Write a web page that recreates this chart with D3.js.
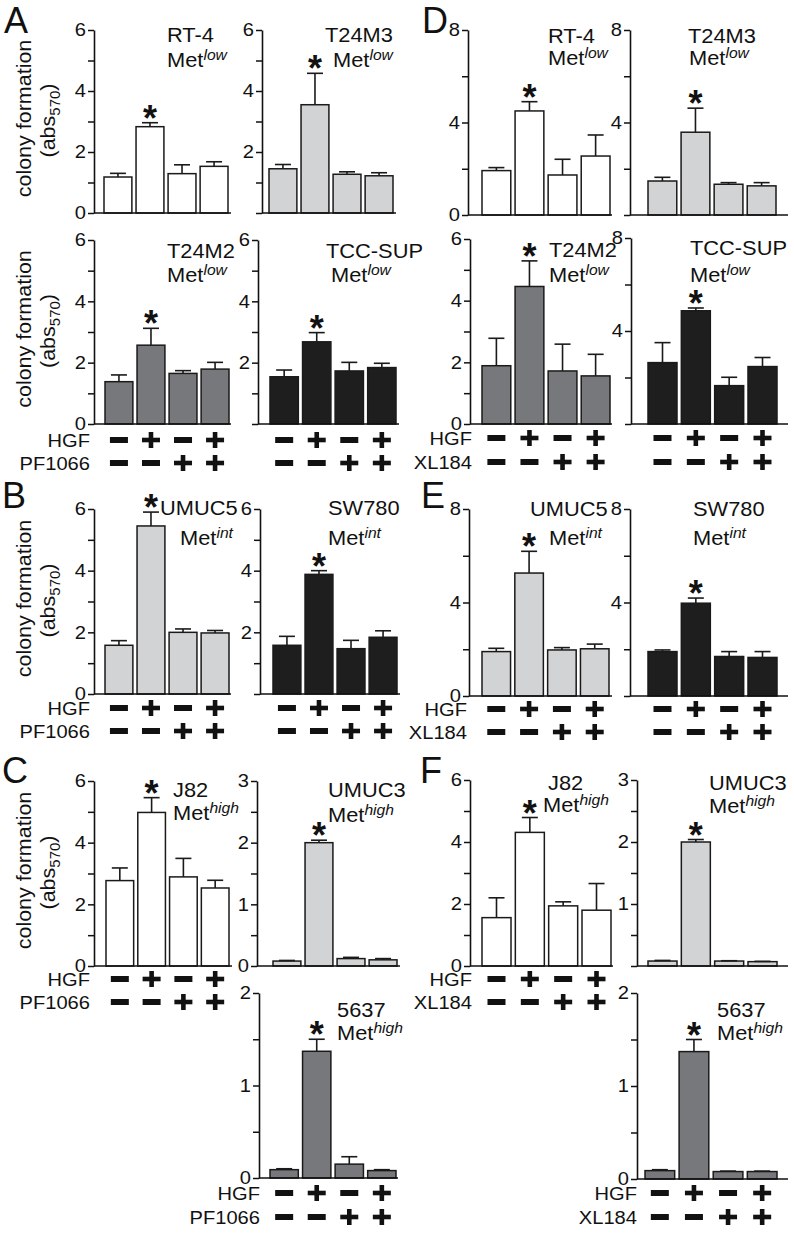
<!DOCTYPE html>
<html><head><meta charset="utf-8">
<script src="https://cdn.jsdelivr.net/npm/d3@7"></script>
<style>
body{margin:0;background:#fff}
svg{display:block}
text{font-family:"Liberation Sans",Arial,Helvetica,sans-serif;fill:#111}
</style>
</head><body>
<svg id="chart" width="794" height="1235"></svg>
<script>
// ---------- data ----------
const treatments = ["control", "HGF", "inhibitor", "HGF + inhibitor"];
const hgfSigns = ["-", "+", "-", "+"];
const inhSigns = ["-", "-", "+", "+"];
const inhibitorPF = "PF1066";
const inhibitorXL = "XL184";

// PF1066 experiments (panels A, B, C): mean and SEM
const rt4PF      = [1.18, 2.83, 1.29, 1.53];
const rt4PFsem   = [0.12, 0.13, 0.29, 0.15];
const t24m3PF    = [1.45, 3.55, 1.27, 1.22];
const t24m3PFsem = [0.14, 1.03, 0.08, 0.10];
const t24m2PF    = [1.38, 2.57, 1.65, 1.79];
const t24m2PFsem = [0.22, 0.55, 0.09, 0.22];
const tccPF      = [1.54, 2.68, 1.73, 1.84];
const tccPFsem   = [0.22, 0.30, 0.28, 0.14];
const umuc5PF    = [1.58, 5.45, 2.00, 1.98];
const umuc5PFsem = [0.15, 0.45, 0.11, 0.08];
const sw780PF    = [1.58, 3.88, 1.47, 1.84];
const sw780PFsem = [0.29, 0.12, 0.27, 0.21];
const j82PF      = [2.77, 4.98, 2.89, 2.53];
const j82PFsem   = [0.41, 0.48, 0.60, 0.25];
const umuc3PF    = [0.08, 2.00, 0.12, 0.10];
const umuc3PFsem = [0.01, 0.04, 0.02, 0.02];
const c5637PF    = [0.09, 1.37, 0.15, 0.08];
const c5637PFsem = [0.01, 0.13, 0.08, 0.01];

// XL184 experiments (panels D, E, F)
const rt4XL      = [1.92, 4.50, 1.73, 2.55];
const rt4XLsem   = [0.13, 0.40, 0.68, 0.91];
const t24m3XL    = [1.47, 3.58, 1.33, 1.26];
const t24m3XLsem = [0.16, 1.04, 0.07, 0.14];
const t24m2XL    = [1.89, 4.46, 1.72, 1.56];
const t24m2XLsem = [0.89, 0.83, 0.87, 0.70];
const tccXL      = [2.64, 4.87, 1.65, 2.47];
const tccXLsem   = [0.86, 0.12, 0.36, 0.39];
const umuc5XL    = [1.90, 5.26, 1.97, 2.02];
const umuc5XLsem = [0.14, 0.93, 0.10, 0.20];
const sw780XL    = [1.90, 3.97, 1.69, 1.65];
const sw780XLsem = [0.07, 0.22, 0.21, 0.25];
const j82XL      = [1.56, 4.31, 1.94, 1.80];
const j82XLsem   = [0.64, 0.48, 0.13, 0.86];
const umuc3XL    = [0.08, 2.00, 0.08, 0.07];
const umuc3XLsem = [0.01, 0.04, 0.005, 0.005];
const c5637XL    = [0.09, 1.37, 0.08, 0.08];
const c5637XLsem = [0.01, 0.13, 0.005, 0.005];

// tick values
const ticks6 = {major: [0, 2, 4, 6], minor: [1, 3, 5]};
const ticks8 = {major: [0, 4, 8], minor: [2, 6]};
const ticks3 = {major: [0, 1, 2, 3], minor: [0.5, 1.5, 2.5]};
const ticks2 = {major: [0, 1, 2], minor: [0.5, 1.5]};

// ---------- style ----------
const C_WHITE = "#ffffff", C_LIGHT = "#d2d3d5", C_MID = "#77787b", C_DARK = "#1e1e1e";
const TS = 1.12;   // horizontal stretch of text
const FONT_TICK = 18, FONT_LAB = 19.5, FONT_ROW = 19;

// ---------- layout ----------
const panels = [
  // A
  {name:"RT-4", met:"low", m:rt4PF, e:rt4PFsem, fill:C_WHITE, max:6, t:ticks6, ax:94, x0:104, x1:228, xe:231, yTop:30, y0:213, zero:true, nx:167, ny:42, mx:167, my:67, title:true},
  {name:"T24M3", met:"low", m:t24m3PF, e:t24m3PFsem, fill:C_LIGHT, max:6, t:ticks6, ax:262, x0:269, x1:393, xe:396, yTop:30, y0:213, zero:false, nx:325, ny:42, mx:333, my:67},
  {name:"T24M2", met:"low", m:t24m2PF, e:t24m2PFsem, fill:C_MID, max:6, t:ticks6, ax:94, x0:105, x1:229, xe:231, yTop:240, y0:424, zero:true, nx:167, ny:258, mx:167, my:282, title:true},
  {name:"TCC-SUP", met:"low", m:tccPF, e:tccPFsem, fill:C_DARK, max:6, t:ticks6, ax:258, x0:270, x1:396, xe:399, yTop:240, y0:424, zero:false, nx:326, ny:258, mx:331, my:282},
  // D
  {name:"RT-4", met:"low", m:rt4XL, e:rt4XLsem, fill:C_WHITE, max:8, t:ticks8, ax:468, x0:482, x1:610, xe:612, yTop:30, y0:215, zero:true, nx:548, ny:43, mx:548, my:65},
  {name:"T24M3", met:"low", m:t24m3XL, e:t24m3XLsem, fill:C_LIGHT, max:8, t:ticks8, ax:630, x0:648, x1:776, xe:788, yTop:30, y0:215, zero:false, nx:688, ny:43, mx:689, my:65},
  {name:"T24M2", met:"low", m:t24m2XL, e:t24m2XLsem, fill:C_MID, max:6, t:ticks6, ax:470, x0:482, x1:610, xe:612, yTop:239, y0:424, zero:true, nx:549, ny:257, mx:549, my:282},
  {name:"TCC-SUP", met:"low", m:tccXL, e:tccXLsem, fill:C_DARK, max:8, t:ticks8, ax:631, x0:648, x1:777, xe:788, yTop:238, y0:424, zero:false, nx:690, ny:255, mx:690, my:282},
  // B
  {name:"UMUC5", met:"int", m:umuc5PF, e:umuc5PFsem, fill:C_LIGHT, max:6, t:ticks6, ax:94, x0:105, x1:229, xe:231, yTop:509, y0:694, zero:true, nx:160, ny:515, mx:180, my:545, title:true},
  {name:"SW780", met:"int", m:sw780PF, e:sw780PFsem, fill:C_DARK, max:6, t:ticks6, ax:260, x0:273, x1:397, xe:400, yTop:509, y0:694, zero:false, nx:328, ny:515, mx:328, my:545},
  // E
  {name:"UMUC5", met:"int", m:umuc5XL, e:umuc5XLsem, fill:C_LIGHT, max:8, t:ticks8, ax:469, x0:482, x1:609, xe:612, yTop:509, y0:696, zero:true, nx:530, ny:516, mx:549, my:545},
  {name:"SW780", met:"int", m:sw780XL, e:sw780XLsem, fill:C_DARK, max:8, t:ticks8, ax:630, x0:648, x1:777, xe:788, yTop:509, y0:696, zero:false, nx:693, ny:516, mx:693, my:545},
  // C
  {name:"J82", met:"high", m:j82PF, e:j82PFsem, fill:C_WHITE, max:6, t:ticks6, ax:94, x0:106, x1:229, xe:232, yTop:781, y0:966, zero:true, nx:173, ny:797, mx:173, my:820, title:true},
  {name:"UMUC3", met:"high", m:umuc3PF, e:umuc3PFsem, fill:C_LIGHT, max:3, t:ticks3, ax:257, x0:273, x1:397, xe:400, yTop:781, y0:966, zero:true, nx:328, ny:797, mx:328, my:822},
  {name:"5637", met:"high", m:c5637PF, e:c5637PFsem, fill:C_MID, max:2, t:ticks2, ax:259, x0:270, x1:396, xe:398, yTop:993, y0:1178, zero:true, nx:337, ny:1017, mx:337, my:1040},
  // F
  {name:"J82", met:"high", m:j82XL, e:j82XLsem, fill:C_WHITE, max:6, t:ticks6, ax:470, x0:482, x1:611, xe:613, yTop:780, y0:966, zero:true, nx:548, ny:790, mx:543, my:812},
  {name:"UMUC3", met:"high", m:umuc3XL, e:umuc3XLsem, fill:C_LIGHT, max:3, t:ticks3, ax:637, x0:648, x1:777, xe:788, yTop:780, y0:966, zero:false, nx:709, ny:790, mx:709, my:813},
  {name:"5637", met:"high", m:c5637XL, e:c5637XLsem, fill:C_MID, max:2, t:ticks2, ax:637, x0:645, x1:777, xe:788, yTop:993, y0:1179, zero:true, nx:717, ny:1017, mx:717, my:1040}
];

// sign rows: which panels (by index) get +/- rows
const signRows = [
  {p:[2,3], inh:inhibitorPF, lx:90, y1:440, y2:463},
  {p:[6,7], inh:inhibitorXL, lx:472, y1:438, y2:462},
  {p:[8,9], inh:inhibitorPF, lx:90, y1:708, y2:731},
  {p:[10,11], inh:inhibitorXL, lx:467, y1:709, y2:732},
  {p:[12], inh:inhibitorPF, lx:90, y1:979, y2:1002},
  {p:[14], inh:inhibitorPF, lx:260, y1:1193, y2:1217},
  {p:[15], inh:inhibitorXL, lx:472, y1:979, y2:1002},
  {p:[17], inh:inhibitorXL, lx:637, y1:1193, y2:1217}
];

const letters = [
  {t:"A", x:4, y:33}, {t:"D", x:422, y:33},
  {t:"B", x:2, y:508}, {t:"E", x:421, y:508},
  {t:"C", x:2, y:783}, {t:"F", x:420, y:783}
];

// ---------- drawing ----------
const svg = d3.select("#chart");
svg.append("rect").attr("width",794).attr("height",1235).attr("fill","#fff");

function stext(parent, x, y, str, size, anchor, sx) {
  const g = parent.append("g").attr("transform", `translate(${x},${y}) scale(${sx||TS},1)`);
  return g.append("text").attr("font-size", size).attr("text-anchor", anchor || "start").text(str);
}

const scales = [];
panels.forEach((p, pi) => {
  const g = svg.append("g");
  const y = d3.scaleLinear().domain([0, p.max]).range([p.y0, p.yTop]);
  const x = d3.scaleBand().domain(d3.range(4)).range([p.x0, p.x1]).paddingInner(0.13);
  scales[pi] = x;
  const bw = x.bandwidth();

  // bars
  g.selectAll("rect.bar").data(p.m).enter().append("rect")
    .attr("x", (d,i) => x(i)).attr("y", d => y(d))
    .attr("width", bw).attr("height", d => p.y0 - y(d))
    .attr("fill", p.fill).attr("stroke", "#1a1a1a").attr("stroke-width", 1.5);

  // error bars
  const eb = g.selectAll("g.err").data(p.m).enter().append("g");
  eb.append("line")
    .attr("x1", (d,i) => x(i)+bw/2).attr("x2", (d,i) => x(i)+bw/2)
    .attr("y1", d => y(d)).attr("y2", (d,i) => y(d + p.e[i]))
    .attr("stroke", "#1a1a1a").attr("stroke-width", 1.6);
  eb.append("line")
    .attr("x1", (d,i) => x(i)+bw/2-8).attr("x2", (d,i) => x(i)+bw/2+8)
    .attr("y1", (d,i) => y(d + p.e[i])).attr("y2", (d,i) => y(d + p.e[i]))
    .attr("stroke", "#1a1a1a").attr("stroke-width", 1.6);

  // asterisk above HGF bar
  const top = y(p.m[1] + p.e[1]);
  g.append("text").attr("x", x(1)+bw/2).attr("y", top + 8)
    .attr("text-anchor","middle").attr("font-size", 36).attr("font-weight","bold").text("*");

  // y axis
  const allTicks = p.t.major.concat(p.t.minor).sort((a,b)=>a-b);
  const axis = d3.axisLeft(y).tickValues(allTicks).tickSize(6).tickSizeOuter(0)
    .tickFormat(d => (p.t.major.includes(d) && (d !== 0 || p.zero)) ? d3.format("~g")(d) : "");
  const ag = g.append("g").attr("transform", `translate(${p.ax},0)`).call(axis);
  ag.select(".domain").attr("stroke","#111").attr("stroke-width",1.6);
  ag.selectAll(".tick line").attr("stroke","#111").attr("stroke-width",1.5);
  ag.selectAll(".tick text").attr("font-size", FONT_TICK).attr("fill","#111")
    .attr("font-family",'"Liberation Sans",Arial,sans-serif')
    .attr("x", -8/TS).attr("transform", `scale(${TS},1)`);

  // x axis baseline
  g.append("line").attr("x1", p.ax).attr("x2", p.xe).attr("y1", p.y0).attr("y2", p.y0)
    .attr("stroke","#111").attr("stroke-width",1.6);

  // cell line labels
  stext(g, p.nx, p.ny, p.name, FONT_LAB);
  const mt = stext(g, p.mx, p.my, "", FONT_LAB);
  mt.append("tspan").text("Met");
  mt.append("tspan").attr("font-size", 14).attr("font-style","italic").attr("dy", -7.5).text(p.met);

  // y title
  if (p.title) {
    const cy = (p.yTop + p.y0) / 2 - 3;
    const t1 = svg.append("g").attr("transform", `translate(31,${cy}) rotate(-90) scale(1,0.92)`);
    t1.append("text").attr("text-anchor","middle").attr("font-size", 21.5).text("colony formation");
    const t2 = svg.append("g").attr("transform", `translate(55,${cy+2}) rotate(-90) scale(1,0.92)`);
    const tt = t2.append("text").attr("text-anchor","middle").attr("font-size", 21.5);
    tt.append("tspan").text("(abs");
    tt.append("tspan").attr("font-size", 15).attr("dy", 5).text("570");
    tt.append("tspan").attr("dy", -5).text(")");
  }
});

// +/- rows
function drawSign(g, cx, cy, s) {
  if (s === "-") {
    g.append("rect").attr("x", cx-9).attr("y", cy-3).attr("width", 18).attr("height", 6).attr("fill","#111");
  } else {
    g.append("rect").attr("x", cx-9).attr("y", cy-2.3).attr("width", 18).attr("height", 4.6).attr("fill","#111");
    g.append("rect").attr("x", cx-2.3).attr("y", cy-8).attr("width", 4.6).attr("height", 16).attr("fill","#111");
  }
}
signRows.forEach(r => {
  const g = svg.append("g");
  stext(g, r.lx, r.y1 + 6.5, "HGF", FONT_ROW, "end", 1.06);
  stext(g, r.lx, r.y2 + 6.5, r.inh, FONT_ROW, "end", 1.06);
  r.p.forEach(pi => {
    const x = scales[pi], bw = x.bandwidth();
    treatments.forEach((t, i) => {
      drawSign(g, x(i)+bw/2, r.y1, hgfSigns[i]);
      drawSign(g, x(i)+bw/2, r.y2, inhSigns[i]);
    });
  });
});

// panel letters
letters.forEach(l => {
  svg.append("text").attr("x", l.x).attr("y", l.y).attr("font-size", 36).text(l.t);
});
</script>
</body></html>
